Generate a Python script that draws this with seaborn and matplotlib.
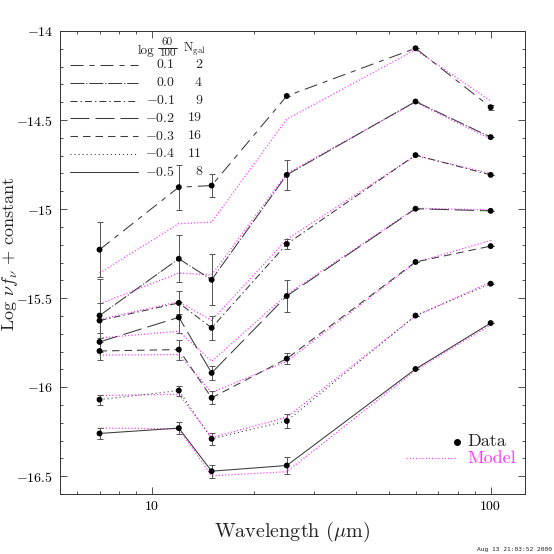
import numpy as np
import pandas as pd
import matplotlib
matplotlib.use("Agg")
import matplotlib.pyplot as plt
from matplotlib.lines import Line2D
from matplotlib.ticker import FixedLocator, FuncFormatter, MultipleLocator
import seaborn as sns

# ---------------- data ----------------
wavelength = [7, 12, 15, 25, 60, 100]
groups = ["0.1", "0.0", "-0.1", "-0.2", "-0.3", "-0.4", "-0.5"]
n_gal = [2, 4, 9, 19, 16, 11, 8]

data_01 = [-15.228, -14.877, -14.868, -14.365, -14.097, -14.428]
data_00 = [-15.598, -15.279, -15.397, -14.808, -14.396, -14.596]
data_m01 = [-15.626, -15.527, -15.667, -15.196, -14.697, -14.808]
data_m02 = [-15.746, -15.608, -15.920, -15.488, -14.998, -15.010]
data_m03 = [-15.797, -15.789, -16.060, -15.840, -15.297, -15.208]
data_m04 = [-16.070, -16.019, -16.290, -16.190, -15.598, -15.419]
data_m05 = [-16.260, -16.230, -16.472, -16.440, -15.898, -15.640]

err_01 = [0.155, 0.127, 0.063, 0.0, 0.0, 0.015]
err_00 = [0.205, 0.133, 0.143, 0.084, 0.0, 0.0]
err_m01 = [0.100, 0.065, 0.067, 0.030, 0.0, 0.0]
err_m02 = [0.050, 0.088, 0.040, 0.089, 0.0, 0.0]
err_m03 = [0.050, 0.056, 0.037, 0.031, 0.0, 0.0]
err_m04 = [0.028, 0.028, 0.033, 0.037, 0.0, 0.0]
err_m05 = [0.033, 0.033, 0.037, 0.050, 0.0, 0.0]

model_01 = [-15.359, -15.082, -15.073, -14.495, -14.105, -14.393]
model_00 = [-15.533, -15.359, -15.370, -14.800, -14.400, -14.607]
model_m01 = [-15.620, -15.520, -15.625, -15.170, -14.700, -14.800]
model_m02 = [-15.724, -15.686, -15.855, -15.480, -14.995, -15.005]
model_m03 = [-15.820, -15.817, -16.030, -15.855, -15.300, -15.176]
model_m04 = [-16.047, -16.040, -16.283, -16.169, -15.600, -15.410]
model_m05 = [-16.230, -16.234, -16.498, -16.475, -15.905, -15.650]

y_ticks = [-14, -14.5, -15, -15.5, -16, -16.5]
x_major = [10, 100]
x_minor = [6, 7, 8, 9, 20, 30, 40, 50, 60, 70, 80, 90]

all_data = [data_01, data_00, data_m01, data_m02, data_m03, data_m04, data_m05]
all_err = [err_01, err_00, err_m01, err_m02, err_m03, err_m04, err_m05]
all_model = [model_01, model_00, model_m01, model_m02, model_m03, model_m04, model_m05]

rows = []
for g, d, e, m in zip(groups, all_data, all_err, all_model):
    for w, dv, ev, mv in zip(wavelength, d, e, m):
        rows.append({"group": g, "wl": w, "data": dv, "err": ev, "model": mv})
df = pd.DataFrame(rows)

# ---------------- style ----------------
sns.set_style("ticks")
plt.rcParams["font.family"] = ["cmr10", "DejaVu Serif"]
plt.rcParams["mathtext.fontset"] = "cm"
plt.rcParams["axes.formatter.use_mathtext"] = True
plt.rcParams["lines.scale_dashes"] = False

dash_map = {
    "0.1": (9.4, 4.3, 3.6, 4.3),
    "0.0": (10.0, 1.4, 0.8, 1.4),
    "-0.1": (5.0, 2.2, 1.0, 2.2),
    "-0.2": (13.7, 4.3),
    "-0.3": (5.4, 3.6),
    "-0.4": (0.8, 2.1),
    "-0.5": "",
}
line_color = "#3a3a3a"
magenta = "#ff33ff"

fig = plt.figure(figsize=(5.54, 5.54), dpi=100)
ax = fig.add_axes([60 / 554, 60 / 554, 465 / 554, 463 / 554])

# model curves
sns.lineplot(data=df, x="wl", y="model", units="group", estimator=None,
             sort=False, color=magenta, lw=0.9, linestyle=(0, (0.8, 1.5)),
             ax=ax, legend=False, zorder=2)
# data curves
sns.lineplot(data=df, x="wl", y="data", style="group", dashes=dash_map,
             units="group", estimator=None, sort=False, color=line_color,
             lw=0.75, ax=ax, legend=False, zorder=3)
# error bars
ax.errorbar(df["wl"], df["data"], yerr=df["err"], fmt="none",
            ecolor="#555555", elinewidth=0.7, capsize=2.3, capthick=0.7,
            zorder=3)
# points
sns.scatterplot(data=df, x="wl", y="data", color="black", s=18,
                edgecolor="none", ax=ax, legend=False, zorder=4)

# ---------------- axes ----------------
ax.set_xscale("log")
ax.set_xlim(5.35, 126.3)
ax.set_ylim(-16.6, -14.0)
ax.xaxis.set_major_locator(FixedLocator(x_major))
ax.xaxis.set_minor_locator(FixedLocator(x_minor))
ax.xaxis.set_major_formatter(FuncFormatter(lambda v, p: f"{v:g}"))
ax.xaxis.set_minor_formatter(FuncFormatter(lambda v, p: ""))
ax.yaxis.set_major_locator(FixedLocator(y_ticks))
ax.yaxis.set_minor_locator(MultipleLocator(0.1))
ax.yaxis.set_major_formatter(FuncFormatter(lambda v, p: f"${v:g}$"))

ax.tick_params(which="both", direction="in", top=True, right=True,
               colors="#333333", labelcolor="black")
ax.tick_params(which="major", length=5, width=0.6, pad=5, labelsize=10)
ax.tick_params(which="minor", length=2.4, width=0.6)
for s in ax.spines.values():
    s.set_linewidth(0.7)
    s.set_color("#333333")

ax.set_xlabel(r"Wavelength ($\mu$m)", fontsize=14.5)
ax.xaxis.set_label_coords(0.5, -0.056)
ax.set_ylabel(r"Log $\nu f_\nu$ + constant", fontsize=13)
ax.yaxis.set_label_coords(-0.086, 0.52)

# ---------------- legend (top left) ----------------
row_y = [0.9266 - 0.0384 * i for i in range(len(groups))]
ax.text(0.1677, 0.9568, "log", transform=ax.transAxes,
        ha="left", va="center", fontsize=9.5)
ax.text(0.2312, 0.9765, "60", transform=ax.transAxes,
        ha="center", va="center", fontsize=8)
ax.add_line(Line2D([0.2108, 0.2516], [0.9639, 0.9639], transform=ax.transAxes,
                   color="black", lw=0.6))
ax.text(0.2312, 0.9520, "100", transform=ax.transAxes,
        ha="center", va="center", fontsize=8)
ax.text(0.2882, 0.9590, r"N$_{\rm gal}$", transform=ax.transAxes,
        ha="center", va="center", fontsize=9)
for g, n, yy in zip(groups, n_gal, row_y):
    d = dash_map[g]
    ls = "-" if d == "" else (0, d)
    ax.add_line(Line2D([0.0215, 0.1677], [yy, yy], transform=ax.transAxes,
                       color=line_color, lw=0.75, linestyle=ls))
    ax.text(0.2473, yy, f"${g}$", transform=ax.transAxes, ha="right",
            va="center", fontsize=10)
    ax.text(0.3054, yy, f"{n}", transform=ax.transAxes, ha="right",
            va="center", fontsize=10)

# ---------------- legend (bottom right) ----------------
ax.add_line(Line2D([0.8538], [0.113], transform=ax.transAxes, marker="o",
                   ms=4, color="black", lw=0))
ax.text(0.8753, 0.113, "Data", transform=ax.transAxes, ha="left",
        va="center", fontsize=13)
ax.add_line(Line2D([0.7441, 0.8538], [0.0778, 0.0778], transform=ax.transAxes,
                   color=magenta, lw=0.9, linestyle=(0, (0.8, 1.5))))
ax.text(0.8753, 0.0778, "Model", transform=ax.transAxes, ha="left",
        va="center", fontsize=13, color=magenta)

fig.text(0.9964, 0.009, "Aug 13 21:03:52 2000", ha="right", va="center",
         fontsize=4.5, family="DejaVu Sans Mono")

fig.savefig("out.png", dpi=100)
